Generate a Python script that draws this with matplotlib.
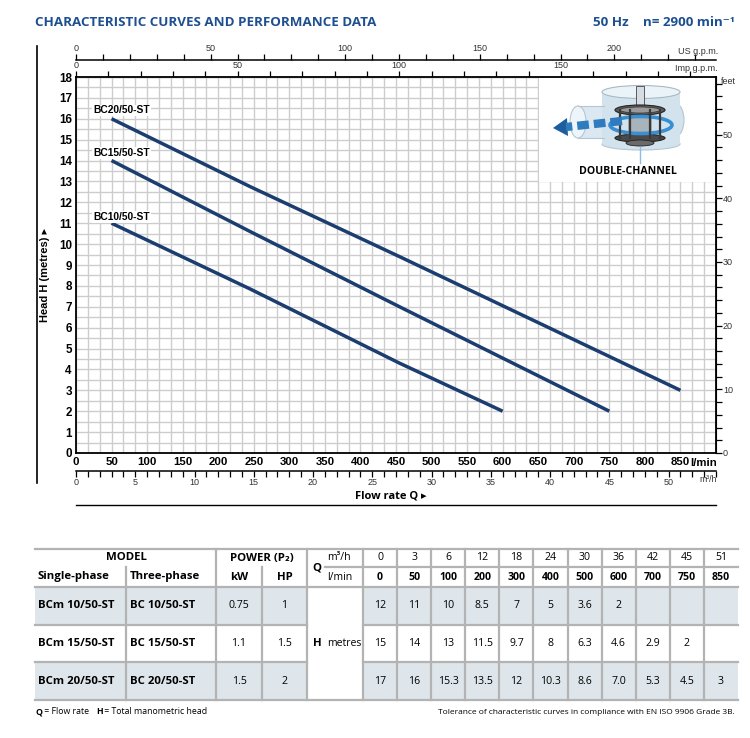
import numpy as np
import matplotlib
matplotlib.use("Agg")
import matplotlib.pyplot as plt
from matplotlib import font_manager
from matplotlib.patches import Rectangle, Ellipse, Polygon
from matplotlib.ticker import MultipleLocator, NullLocator

# fonts
names = {f.name for f in font_manager.fontManager.ttflist}
narrow = "Liberation Sans Narrow" if "Liberation Sans Narrow" in names else "Liberation Sans"
sans = ["Open Sans", "DejaVu Sans"]
plt.rcParams["font.family"] = [narrow, "DejaVu Sans"]

# performance table
q_m3h = [0, 3, 6, 12, 18, 24, 30, 36, 42, 45, 51]
q_lmin = [0, 50, 100, 200, 300, 400, 500, 600, 700, 750, 850]
single_phase = ["BCm 10/50-ST", "BCm 15/50-ST", "BCm 20/50-ST"]
three_phase = ["BC 10/50-ST", "BC 15/50-ST", "BC 20/50-ST"]
power_kw = ["0.75", "1.1", "1.5"]
power_hp = ["1", "1.5", "2"]
head_bc10 = [12, 11, 10, 8.5, 7, 5, 3.6, 2]
head_bc15 = [15, 14, 13, 11.5, 9.7, 8, 6.3, 4.6, 2.9, 2]
head_bc20 = [17, 16, 15.3, 13.5, 12, 10.3, 8.6, 7.0, 5.3, 4.5, 3]
table_heads = [head_bc10, head_bc15, head_bc20]

# curves (l/min, metres)
curve_names = ["BC10/50-ST", "BC15/50-ST", "BC20/50-ST"]
bc10_q = [50, 245, 455, 600]
bc10_h = [11.0, 7.85, 4.3, 2.0]
bc15_q = [50, 245, 455, 750]
bc15_h = [14.0, 10.6, 7.0, 2.0]
bc20_q = [50, 245, 455, 850]
bc20_h = [16.0, 12.75, 9.4, 3.0]
curves = [(bc10_q, bc10_h), (bc15_q, bc15_h), (bc20_q, bc20_h)]
label_xy = [(24, 11.3), (24, 14.35), (24, 16.4)]

LPM_PER_USGPM = 3.785411784
LPM_PER_IMPGPM = 4.54609
FT_PER_M = 3.28084
LPM_PER_M3H = 1000 / 60

navy = "#1b3d6f"
blue = "#1d4f91"
grid_c = "#cdcdcd"
lab_c = "#333333"

W, H = 750, 738
fig = plt.figure(figsize=(W / 100, H / 100), dpi=100)


def box(x0, y0, x1, y1):
    # pixel box (top-left origin) -> figure rect
    return [x0 / W, 1 - y1 / H, (x1 - x0) / W, (y1 - y0) / H]


# main chart
ax = fig.add_axes(box(76, 77, 716, 453))
ax.set_xlim(0, 900)
ax.set_ylim(0, 18)
ax.xaxis.set_minor_locator(MultipleLocator(LPM_PER_M3H))
ax.yaxis.set_minor_locator(MultipleLocator(0.5))
ax.grid(which="both", color=grid_c, lw=1.0)
ax.set_axisbelow(True)
xt = np.arange(0, 851, 50)
ax.set_xticks(xt)
ax.set_xticklabels([str(v) for v in xt], fontweight="bold", fontsize=8.2)
ax.set_yticks(range(19))
ax.set_yticklabels([str(v) for v in range(19)], fontweight="bold", fontsize=8.4)
ax.tick_params(which="both", length=0, pad=3)
for s in ax.spines.values():
    s.set_linewidth(1.3)

for (cq, ch), name, (lx, ly) in zip(curves, curve_names, label_xy):
    ax.plot(cq, ch, color=navy, lw=2.5, solid_capstyle="butt", zorder=3)
    ax.text(lx, ly, name, fontsize=7.4, fontweight="bold", va="center", ha="left",
            bbox=dict(facecolor="white", edgecolor="none", pad=0.6), zorder=4)

# Imp g.p.m. scale on the top spine
imp = ax.secondary_xaxis("top", functions=(lambda x: x / LPM_PER_IMPGPM, lambda x: x * LPM_PER_IMPGPM))
imp.xaxis.set_major_locator(MultipleLocator(50))
imp.xaxis.set_minor_locator(MultipleLocator(10))
imp.tick_params(which="both", direction="out", length=4, width=0.9, labelsize=6.5, pad=1, labelcolor=lab_c)

# feet scale on the right
ft = ax.secondary_yaxis("right", functions=(lambda m: m * FT_PER_M, lambda f: f / FT_PER_M))
ft.yaxis.set_major_locator(MultipleLocator(10))
ft.yaxis.set_minor_locator(MultipleLocator(2))
ft.tick_params(which="both", direction="out", length=4, width=0.9, labelsize=6.5, pad=1, labelcolor=lab_c)

# US g.p.m. scale above
us = fig.add_axes(box(76, 59.5, 716, 60))
us.set_xlim(0, 900 / LPM_PER_USGPM)
us.patch.set_visible(False)
for k in ["bottom", "left", "right"]:
    us.spines[k].set_visible(False)
us.spines["top"].set_linewidth(1.1)
us.xaxis.tick_top()
us.set_yticks([])
us.xaxis.set_major_locator(MultipleLocator(50))
us.xaxis.set_minor_locator(MultipleLocator(10))
us.tick_params(which="both", direction="out", length=4, width=0.9, labelsize=6.5, pad=1, labelcolor=lab_c)

# m3/h scale below
m3 = fig.add_axes(box(76, 471, 716, 471.5))
m3.set_xlim(0, 900 / LPM_PER_M3H)
m3.patch.set_visible(False)
for k in ["top", "left", "right"]:
    m3.spines[k].set_visible(False)
m3.spines["bottom"].set_linewidth(1.1)
m3.set_yticks([])
m3.xaxis.set_minor_locator(MultipleLocator(1))
m3.set_xticks(list(range(0, 51, 5)))
m3.tick_params(which="both", direction="out", length=4, width=0.9, labelsize=6.5, pad=1, labelcolor=lab_c)

# overlay in pixel coordinates for texts, inset and table
ov = fig.add_axes([0, 0, 1, 1])
ov.set_xlim(0, W)
ov.set_ylim(H, 0)
ov.axis("off")

ov.text(35, 22, "CHARACTERISTIC CURVES AND PERFORMANCE DATA", family=sans, fontweight="bold",
        fontsize=9.6, color=blue, va="center", ha="left")
ov.text(593, 22, "50 Hz", family=sans, fontweight="bold", fontsize=9.6, color=blue, va="center")
ov.text(643, 22, "n= 2900 min\u207b\u00b9", family=sans, fontweight="bold", fontsize=9.6,
        color=blue, va="center")

ov.text(718, 51, "US g.p.m.", fontsize=6.5, color=lab_c, ha="right", va="center")
ov.text(718, 68.5, "Imp g.p.m.", fontsize=6.5, color=lab_c, ha="right", va="center")
ov.text(721, 82, "feet", fontsize=6.5, color=lab_c, ha="left", va="center")
ov.text(717, 463, "l/min", fontsize=8.2, fontweight="bold", ha="right", va="center")
ov.text(717, 480, "m\u00b3/h", fontsize=6.3, color=lab_c, ha="right", va="center")
ov.text(45, 275, "Head H (metres) \u25b8", fontsize=8, fontweight="bold", rotation=90,
        ha="center", va="center")
ov.text(355, 496, "Flow rate Q \u25b8", family=sans, fontsize=8, fontweight="bold",
        ha="left", va="center")

ov.plot([37, 37], [46, 483], color="black", lw=1.2)
ov.plot([76, 716], [505, 505], color="black", lw=1.0)

# inset: double-channel impeller sketch
ov.add_patch(Rectangle((539, 78), 176, 103.5, fc="white", ec="none"))
ov.add_patch(Rectangle((578, 106), 34, 32, fc="#dbe8f1", ec="none"))
ov.plot([578, 604], [106, 106], color="#b5c6d2", lw=0.8)
ov.plot([578, 604], [138, 138], color="#b5c6d2", lw=0.8)
ov.add_patch(Ellipse((578, 122), 16, 32, fc="#eef5fa", ec="#b5c6d2", lw=0.8))
ov.add_patch(Ellipse((676, 120), 16, 32, fc="#d3e3ee", ec="#b5c6d2", lw=0.8))
ov.add_patch(Ellipse((641, 144), 78, 12, fc="#d3e3ee", ec="#b5c6d2", lw=0.8))
ov.add_patch(Rectangle((602, 92), 78, 52, fc="#d3e3ee", ec="none"))
ov.add_patch(Ellipse((641, 92), 78, 13, fc="#eaf3f8", ec="#aab9c4", lw=0.8))
ov.add_patch(Rectangle((636, 86), 8, 24, fc="#d6dde2", ec="#444444", lw=0.6))
for vx in [620, 630, 650, 660]:
    ov.plot([vx, vx], [110, 138], color="#3a3a3a", lw=1.6)
ov.add_patch(Rectangle((628, 110), 24, 28, fc="#a9b3ba", ec="none"))
ov.add_patch(Ellipse((640, 110), 50, 10, fc="#5b5b5b", ec="#222222", lw=0.8))
ov.add_patch(Ellipse((640, 110), 40, 6, fc="#9a9a9a", ec="#333333", lw=0.5))
ov.add_patch(Ellipse((640, 138), 50, 8, fc="#4a4a4a", ec="#222222", lw=0.8))
ov.add_patch(Ellipse((640, 143), 28, 6, fc="#6a6a6a", ec="#222222", lw=0.6))
ov.add_patch(Ellipse((641, 125), 62, 17, fc="none", ec="#3a8fd2", lw=2.6))
ov.plot([622, 566], [121, 127], color="#2f7bbf", lw=6, dashes=(1.4, 0.6), solid_capstyle="butt")
ov.add_patch(Polygon([(553, 128), (567, 118), (568, 136)], closed=True, fc="#1f5e9e", ec="none"))
ov.plot([640, 640], [147, 163], color="#8bbde6", lw=1.0)
ov.text(628, 172, "DOUBLE-CHANNEL", family=sans, fontsize=7.6, fontweight="bold",
        ha="center", va="center")

# performance table
line_c = "#b3b3b3"
shade = "#dee6eb"
num_edges = np.linspace(363, 738, 12)
num_mid = (num_edges[:-1] + num_edges[1:]) / 2
row_edges = [587, 624.7, 662.3, 700]
row_mid = [(row_edges[i] + row_edges[i + 1]) / 2 for i in range(3)]

for r in (0, 2):
    y0, y1 = row_edges[r], row_edges[r + 1]
    ov.add_patch(Rectangle((35, y0), 307 - 35, y1 - y0, fc=shade, ec="none"))
    ov.add_patch(Rectangle((363, y0), 738 - 363, y1 - y0, fc=shade, ec="none"))

for y in (549, 587, 700):
    ov.plot([35, 738], [y, y], color=line_c, lw=1.6)
for y in row_edges[1:3]:
    ov.plot([35, 307], [y, y], color=line_c, lw=1.6)
    ov.plot([363, 738], [y, y], color=line_c, lw=1.6)
ov.plot([325, 738], [567, 567], color=line_c, lw=1.6)
for x in (126, 262):
    ov.plot([x, x], [567, 700], color=line_c, lw=1.6)
for x in [216, 307] + list(num_edges[:-1]):
    ov.plot([x, x], [549, 700], color=line_c, lw=1.6)


def tt(x, y, s, ha="center", bold=False, size=7.6):
    return ov.text(x, y, s, family=sans, fontsize=size, fontweight="bold" if bold else "normal",
                   ha=ha, va="center")


tt(126, 558, "MODEL", bold=True, size=8.2)
tt(38, 577, "Single-phase", ha="left", bold=True, size=8.2)
tt(130, 577, "Three-phase", ha="left", bold=True, size=8.2)
tt(261.5, 558, "POWER (P\u2082)", bold=True, size=8.2)
tt(239, 577, "kW", bold=True, size=8.2)
tt(284.5, 577, "HP", bold=True, size=8.2)
tt(317, 568, "Q", bold=True, size=8.2)
tt(327, 558, "m\u00b3/h", ha="left")
tt(327, 577, "l/min", ha="left")
for xm, a, b in zip(num_mid, q_m3h, q_lmin):
    tt(xm, 558, str(a))
    tt(xm, 577, str(b), bold=True)

for i in range(3):
    y = row_mid[i]
    tt(38, y, single_phase[i], ha="left", bold=True, size=8.2)
    tt(130, y, three_phase[i], ha="left", bold=True, size=8.2)
    tt(239, y, power_kw[i])
    tt(284.5, y, power_hp[i])
    for xm, v in zip(num_mid, table_heads[i]):
        tt(xm, y, str(v))
tt(317, row_mid[1], "H", bold=True, size=8.2)
tt(327, row_mid[1], "metres", ha="left")

# footer notes
t1 = ov.text(35, 712, "Q", family=sans, fontsize=6.3, fontweight="bold", va="center")
t2 = ov.annotate(" = Flow rate   ", xy=(1, 0), xycoords=t1, va="bottom", family=sans, fontsize=6.3)
t3 = ov.annotate("H", xy=(1, 0), xycoords=t2, va="bottom", family=sans, fontsize=6.3, fontweight="bold")
ov.annotate(" = Total manometric head", xy=(1, 0), xycoords=t3, va="bottom", family=sans, fontsize=6.3)
ov.text(735, 712, "Tolerance of characteristic curves in compliance with EN ISO 9906 Grade 3B.",
        family=sans, fontsize=6.0, ha="right", va="center")

fig.savefig("out.png", dpi=100)
